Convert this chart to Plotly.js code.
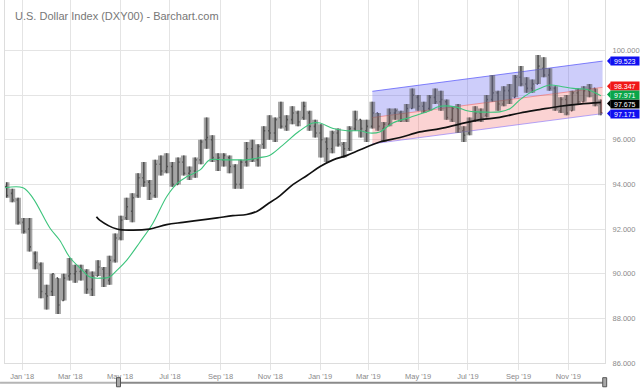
<!DOCTYPE html>
<html>
<head>
<meta charset="utf-8">
<script src="https://cdn.plot.ly/plotly-3.0.1.min.js"></script>
<style>html,body{margin:0;padding:0;background:#fff;}#chart{width:640px;height:392px;}</style>
</head>
<body>
<div id="chart"></div>
<script>
// Weekly price bars (mid-week dates)
const weekDates = [
'2017-12-13','2017-12-20','2017-12-27',
'2018-01-03','2018-01-10','2018-01-17','2018-01-24','2018-01-31','2018-02-07','2018-02-14','2018-02-21','2018-02-28',
'2018-03-07','2018-03-14','2018-03-21','2018-03-28','2018-04-04','2018-04-11','2018-04-18','2018-04-25','2018-05-02',
'2018-05-09','2018-05-16','2018-05-23','2018-05-30','2018-06-06','2018-06-13','2018-06-20','2018-06-27','2018-07-04',
'2018-07-11','2018-07-18','2018-07-25','2018-08-01','2018-08-08','2018-08-15','2018-08-22','2018-08-29','2018-09-05',
'2018-09-12','2018-09-19','2018-09-26','2018-10-03','2018-10-10','2018-10-17','2018-10-24','2018-10-31','2018-11-07',
'2018-11-14','2018-11-21','2018-11-28','2018-12-05','2018-12-12','2018-12-19','2018-12-26',
'2019-01-02','2019-01-09','2019-01-16','2019-01-23','2019-01-30','2019-02-06','2019-02-13','2019-02-20','2019-02-27',
'2019-03-06','2019-03-13','2019-03-20','2019-03-27','2019-04-03','2019-04-10','2019-04-17','2019-04-24','2019-05-01',
'2019-05-08','2019-05-15','2019-05-22','2019-05-29','2019-06-05','2019-06-12','2019-06-19','2019-06-26','2019-07-03',
'2019-07-10','2019-07-17','2019-07-24','2019-07-31','2019-08-07','2019-08-14','2019-08-21','2019-08-28','2019-09-04',
'2019-09-11','2019-09-18','2019-09-25','2019-10-02','2019-10-09','2019-10-16','2019-10-23','2019-10-30','2019-11-06',
'2019-11-13','2019-11-20','2019-11-27','2019-12-04','2019-12-11'];
const openP = [93.9,93.6,93.3,92.3,92.0,90.9,90.4,89.1,89.2,89.8,88.8,89.9,90.0,90.1,90.1,89.3,89.9,90.2,89.7,90.6,91.6,
92.5,92.8,93.5,94.3,94.1,93.5,94.9,94.6,94.8,94.0,95.0,94.5,94.6,95.1,96.0,96.0,95.1,95.1,95.2,94.8,94.0,95.0,95.6,
95.1,95.8,96.4,96.3,97.0,96.6,96.9,97.2,97.0,97.2,96.6,96.3,95.9,95.6,96.3,95.8,95.6,96.5,96.9,96.4,96.6,97.2,96.5,
96.7,97.2,97.2,96.9,97.4,97.9,97.5,97.4,97.9,97.7,97.7,96.9,97.4,96.4,96.3,96.9,97.2,97.1,97.8,98.1,97.6,98.2,97.9,
98.8,98.5,98.3,98.5,99.2,98.9,98.3,97.3,97.8,97.3,98.1,97.7,98.2,98.3,97.6];
const highP = [94.1,93.8,93.4,92.5,92.5,91.0,90.5,89.5,90.0,89.8,90.0,90.7,90.4,90.4,90.2,90.1,90.6,90.3,90.8,91.8,92.6,
93.4,93.6,94.5,95.0,94.2,95.1,95.3,95.4,95.0,95.2,95.3,94.8,95.2,96.0,97.0,96.2,95.4,95.4,95.3,94.9,95.1,95.9,96.0,
95.8,96.6,97.1,97.0,97.7,97.1,97.5,97.3,97.7,97.3,96.9,96.7,96.1,96.4,96.5,95.9,96.6,97.3,96.9,96.9,97.7,97.2,96.8,
97.4,97.4,97.3,97.6,98.3,98.0,97.7,98.0,98.3,98.2,97.8,97.5,97.6,96.6,97.0,97.5,97.4,98.0,98.9,98.2,98.4,98.5,98.9,
99.3,98.8,98.7,99.8,99.7,99.2,98.4,97.9,98.0,98.2,98.3,98.4,98.5,98.3,97.8];
const lowP = [93.4,93.2,92.2,91.8,91.0,90.2,88.9,88.4,89.0,88.2,88.8,89.7,89.6,89.7,89.1,89.0,89.9,89.4,89.5,90.5,91.5,
92.4,92.3,93.4,93.9,93.3,93.4,94.4,94.5,93.9,94.0,94.4,94.2,94.3,94.9,95.6,95.0,94.6,94.8,94.5,93.8,93.8,94.8,95.0,
94.8,95.6,96.0,95.9,96.5,96.4,96.7,96.6,96.9,96.4,96.1,95.2,95.0,95.4,95.7,95.2,95.5,96.4,96.1,95.9,96.5,96.4,95.9,
96.6,96.9,96.8,96.8,97.4,97.3,97.2,97.3,97.6,97.3,96.9,96.8,96.3,95.9,96.2,96.8,96.8,97.0,97.7,97.3,97.5,97.6,97.9,
98.4,98.1,98.1,98.5,98.8,98.2,97.3,97.2,97.1,97.3,97.6,97.7,97.9,97.5,97.1];
const closeP = [93.5,93.3,92.3,91.9,91.2,90.5,89.2,89.0,90.0,88.6,89.8,90.0,90.1,90.2,89.3,89.9,90.3,89.8,90.6,91.6,92.4,
93.0,93.4,94.3,94.1,93.6,94.9,94.6,94.8,94.0,95.0,94.5,94.6,95.1,95.9,96.1,95.2,95.2,95.3,94.8,94.0,95.0,95.6,95.1,
95.7,96.4,96.3,96.9,96.6,96.9,97.2,96.8,97.5,96.6,96.3,96.0,95.6,96.3,95.8,95.6,96.5,96.9,96.5,96.6,97.2,96.6,96.7,
97.2,97.3,96.9,97.4,98.0,97.5,97.3,97.9,97.7,97.8,97.0,97.4,96.5,96.2,96.8,97.2,97.0,97.8,98.1,97.6,98.2,97.8,98.8,
98.5,98.3,98.5,99.3,98.9,98.3,97.4,97.8,97.2,98.1,97.7,98.2,98.3,97.6,97.2];

// 50-day moving average (green)
const ma50Dates = ['2017-12-11','2018-01-02','2018-01-14','2018-02-04','2018-02-16','2018-02-28','2018-03-13','2018-03-25',
'2018-04-06','2018-04-18','2018-04-27','2018-05-09','2018-05-25','2018-06-10','2018-06-27','2018-07-10','2018-07-22',
'2018-08-07','2018-08-19','2018-09-04','2018-09-21','2018-10-03','2018-10-19','2018-10-31','2018-11-16','2018-12-07',
'2018-12-23','2019-01-01','2019-01-17','2019-02-03','2019-02-19','2019-03-03','2019-03-15','2019-03-31','2019-04-21',
'2019-05-12','2019-05-28','2019-06-18','2019-06-30','2019-07-12','2019-08-09','2019-08-22','2019-09-03','2019-09-15',
'2019-09-27','2019-10-10','2019-10-22','2019-11-07','2019-11-24','2019-12-11'];
const ma50 = [93.85,93.85,93.4,92.05,91.5,90.75,90.25,89.85,89.8,89.85,90.15,90.6,91.4,92.25,93.45,94.05,94.35,94.65,95.1,
95.1,95.1,95.1,95.2,95.3,95.75,96.4,96.75,96.75,96.5,96.4,96.4,96.3,96.35,96.75,97.0,97.25,97.5,97.45,97.3,97.25,97.25,
97.4,97.8,98.1,98.3,98.45,98.4,98.3,98.25,97.971];

// 200-day moving average (black)
const ma200Dates = ['2018-04-02','2018-04-06','2018-04-27','2018-05-17','2018-06-06','2018-06-27','2018-07-17','2018-08-07',
'2018-08-28','2018-09-16','2018-10-03','2018-10-16','2018-10-28','2018-11-13','2018-11-29','2018-12-16','2019-01-01',
'2019-01-17','2019-02-03','2019-02-19','2019-03-15','2019-04-09','2019-05-03','2019-05-28','2019-06-21','2019-07-16',
'2019-08-09','2019-09-03','2019-09-27','2019-10-22','2019-11-15','2019-12-11'];
const ma200 = [92.55,92.4,92.0,91.95,92.0,92.2,92.3,92.4,92.5,92.6,92.65,92.8,93.1,93.5,94.0,94.4,94.8,95.1,95.3,95.55,
95.9,96.1,96.35,96.5,96.7,96.9,97.0,97.2,97.35,97.5,97.6,97.675];

// Regression channel
const chanDates = ['2019-03-06','2019-12-13'];
const chanUpper = [98.17, 99.523];
const chanMid = [96.994, 98.347];
const chanLower = [95.818, 97.171];

// Right-hand value tags (drawn in this order; later ones on top)
const tagValues = [99.523, 98.347, 97.675, 97.971, 97.171];
const tagColors = ['#1010f0', '#f01818', '#000000', '#0aa64a', '#1010f0'];
const tagNudge = [0, 1, -1.2, 1.2, 0]; // small pixel nudges so tags do not collide

const yTicks = [86, 88, 90, 92, 94, 96, 98, 100];

const FONT = 'Liberation Sans, Arial, sans-serif';

const traces = [
  {type:'scatter', mode:'lines', x:chanDates, y:chanUpper, line:{color:'rgba(90,90,250,0.75)', width:1}, hoverinfo:'skip'},
  {type:'scatter', mode:'lines', x:chanDates, y:chanMid, fill:'tonexty', fillcolor:'rgba(100,100,240,0.32)',
   line:{color:'rgba(240,90,90,0.55)', width:1}, hoverinfo:'skip'},
  {type:'scatter', mode:'lines', x:chanDates, y:chanLower, fill:'tonexty', fillcolor:'rgba(240,80,80,0.25)',
   line:{color:'rgba(130,110,250,0.6)', width:1}, hoverinfo:'skip'},
  // weekly high-low columns behind the bars (gives the dense look of the daily bars)
  {type:'scatter', mode:'lines', x:weekDates, y:highP, line:{width:0, color:'rgba(0,0,0,0)', shape:'hvh'}, hoverinfo:'skip'},
  {type:'scatter', mode:'lines', x:weekDates, y:lowP, fill:'tonexty', fillcolor:'rgba(100,100,100,0.58)',
   line:{width:0, color:'rgba(0,0,0,0)', shape:'hvh'}, hoverinfo:'skip'},
  {type:'ohlc', x:weekDates, open:openP, high:highP, low:lowP, close:closeP,
   increasing:{line:{color:'#3a3a3a', width:1.6}}, decreasing:{line:{color:'#3a3a3a', width:1.6}}, tickwidth:0.25},
  {type:'scatter', mode:'lines', x:ma50Dates, y:ma50, line:{color:'#3cc47c', width:1.1, shape:'spline'}},
  {type:'scatter', mode:'lines', x:ma200Dates, y:ma200, line:{color:'#111111', width:1.7, shape:'spline'}}
];

const pxPerUnit = 22.35;
const half = 4 / pxPerUnit;
const shapes = [];
const annotations = [];
tagValues.forEach((v, i) => {
  const c = v + tagNudge[i] / pxPerUnit;
  shapes.push({type:'path', xref:'paper', yref:'y', layer:'above',
    path:`M 1.0033 ${c} L 1.0095 ${c + half} L 1.0095 ${c - half} Z`,
    fillcolor:tagColors[i], line:{width:0}});
  annotations.push({xref:'paper', yref:'y', x:1.009, y:v, yshift:tagNudge[i], xanchor:'left', yanchor:'middle',
    text:v.toFixed(3), showarrow:false, bgcolor:tagColors[i], width:27, height:7.5, borderpad:0.3,
    font:{family:FONT, size:7, color:'#ffffff'}, align:'center'});
});
// bottom navigator
shapes.push({type:'line', xref:'paper', yref:'paper', x0:-0.0083, x1:0.186, y0:-0.0545, y1:-0.0545, line:{color:'#b5b5b5', width:2}});
shapes.push({type:'line', xref:'paper', yref:'paper', x0:0.192, x1:0.997, y0:-0.0545, y1:-0.0545, line:{color:'#8a8a8a', width:2}});
shapes.push({type:'rect', xref:'paper', yref:'paper', x0:0.1858, x1:0.1925, y0:-0.0655, y1:-0.0405, fillcolor:'#a8a8a8', line:{color:'#555', width:1}});
shapes.push({type:'rect', xref:'paper', yref:'paper', x0:0.9962, x1:1.0028, y0:-0.0655, y1:-0.0405, fillcolor:'#a8a8a8', line:{color:'#555', width:1}});

const layout = {
  width:640, height:392,
  margin:{l:5, r:35, t:0, b:29},
  paper_bgcolor:'#ffffff', plot_bgcolor:'#ffffff',
  showlegend:false,
  font:{family:FONT},
  title:{text:'U.S. Dollar Index (DXY00) - Barchart.com', font:{family:FONT, size:11, color:'#777777'},
    x:15/640, xanchor:'left', xref:'container', y:1 - 16.5/392, yanchor:'middle', yref:'container'},
  xaxis:{type:'date', range:['2017-12-11','2019-12-16'], tick0:'2018-01-01', dtick:'M2', tickformat:"%b '%y",
    showgrid:true, gridcolor:'#e4e4e4', gridwidth:1, ticks:'outside', ticklen:6, tickcolor:'#e4e4e4',
    tickfont:{family:FONT, size:7.5, color:'#8a8a8a'}, showline:true, linecolor:'#dddddd', zeroline:false,
    rangeslider:{visible:false}, fixedrange:true},
  yaxis:{side:'right', range:[86, 102.26], tickmode:'array', tickvals:yTicks, tickformat:'.3f',
    showgrid:true, gridcolor:'#e4e4e4', gridwidth:1, ticks:'', ticklabelstandoff:5,
    tickfont:{family:FONT, size:7.5, color:'#8a8a8a'}, showline:true, mirror:true, linecolor:'#dddddd', zeroline:false, fixedrange:true},
  shapes:shapes,
  annotations:annotations
};

Plotly.newPlot('chart', traces, layout, {staticPlot:true, displayModeBar:false});
</script>
</body>
</html>
